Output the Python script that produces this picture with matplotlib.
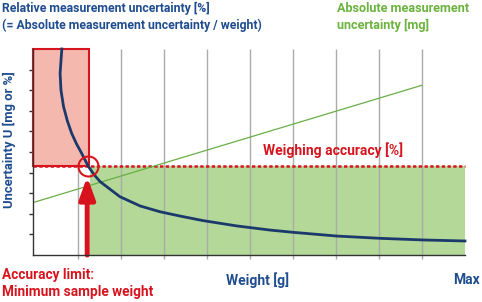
import numpy as np
import matplotlib
matplotlib.use('Agg')
import matplotlib.pyplot as plt
from matplotlib.patches import Rectangle

# values (x = weight units, y = uncertainty units)
weight_grid = [1, 2, 3, 4, 5, 6, 7, 8, 9]
y_ticks = [1, 2, 3, 4, 5, 6, 7, 8, 9]
min_weight = 1.24
accuracy_limit = 4.3
weight_max = 10.0

rel_x = [0.63, 0.59, 0.61, 0.67, 0.76, 0.86, 0.97, 1.09, 1.24, 1.38, 1.52, 1.98, 2.45, 2.91,
         3.38, 3.91, 4.70, 5.47, 6.01, 7.02, 8.02, 9.03, 10.0]
rel_y = [10.0, 8.82, 8.0, 7.2, 6.5, 5.9, 5.4, 4.94, 4.32, 3.9, 3.56, 2.83, 2.38, 2.10,
         1.89, 1.67, 1.41, 1.21, 1.10, 0.92, 0.81, 0.73, 0.68]

abs_x = [0.0, 9.0]
abs_y = [2.57, 8.24]

red = '#d7141e'
blue_txt = '#1f4d8f'
blue_line = '#1b3a6b'
green_txt = '#6cb33f'
green_line = '#6aae45'
green_fill = '#b3d898'
red_fill = '#f5b8ae'

W, H = 482, 302
fig = plt.figure(figsize=(W / 100, H / 100), dpi=100)
ax = fig.add_axes([33 / W, (H - 255) / H, 432 / W, 206 / H])
xmin = -0.04
ax.set_xlim(xmin, weight_max)
ax.set_ylim(0, 10)

# green area: accepted weighing range
ax.add_patch(Rectangle((min_weight + 0.05, 0), weight_max - min_weight - 0.05, accuracy_limit,
                       facecolor=green_fill, edgecolor='none', zorder=1))
ax.vlines(weight_grid, 0, 10, color='#ababab', lw=1, zorder=2)
# red area: below minimum weight
ax.add_patch(Rectangle((xmin, accuracy_limit), min_weight + 0.01 - xmin, 10 - accuracy_limit,
                       facecolor=red_fill, edgecolor=red, lw=1.5, zorder=3, clip_on=False))
ax.plot([xmin, weight_max], [accuracy_limit, accuracy_limit], color=red, lw=1.8,
        ls=(0, (1.35, 0.95)), zorder=4, clip_on=False)

ax.plot(abs_x, abs_y, color=green_line, lw=0.9, zorder=4)
ax.plot(rel_x, rel_y, color=blue_line, lw=2, zorder=5, solid_joinstyle='round', clip_on=False)

ax.annotate('', xy=(1.22, 3.8), xytext=(1.22, 0),
            arrowprops=dict(arrowstyle='-|>,head_length=1.3,head_width=0.47', mutation_scale=10,
                            color=red, lw=3.6, shrinkA=0, shrinkB=0), zorder=6)
ax.plot([min_weight], [accuracy_limit], 'o', ms=14.4, mfc='none', mec=red, mew=1.5, zorder=7)

for s in ['top', 'right']:
    ax.spines[s].set_visible(False)
for s in ['left', 'bottom']:
    ax.spines[s].set_color('#333333')
    ax.spines[s].set_linewidth(1)
    ax.spines[s].set_zorder(8)
ax.set_xticks(weight_grid)
ax.set_yticks(y_ticks)
ax.set_xticklabels([])
ax.set_yticklabels([])
ax.tick_params(axis='x', direction='out', length=3, color='#ababab', width=1)
ax.tick_params(axis='y', direction='out', length=3, color='#333333', width=1)

font = 'Roboto'
def ptext(px, py, s, color, ha='left', va='center', size=8.6, **kw):
    fig.text(px / W, 1 - py / H, s, color=color, ha=ha, va=va, fontsize=size,
             fontweight='bold', family=font, **kw)

ptext(2, 8, 'Relative measurement uncertainty [%]', blue_txt, size=8.8)
ptext(2, 25, '(= Absolute measurement uncertainty / weight)', blue_txt, size=8.8)
ptext(337, 8, 'Absolute measurement', green_txt, size=9.1)
ptext(337, 25, 'uncertainty [mg]', green_txt, size=9.1)
ptext(9, 140, 'Uncertainty U [mg or %]', blue_txt, ha='center', rotation=90, size=9.4)
ptext(333, 150, 'Weighing accuracy [%]', red, ha='center', size=10)
ptext(2, 275, 'Accuracy limit:', red, size=9.8)
ptext(2, 292, 'Minimum sample weight', red, size=9.8)
ptext(258, 280, 'Weight [g]', blue_txt, ha='center', size=10)
ptext(467, 280, 'Max', blue_txt, ha='center', size=10)

fig.savefig('out.png', dpi=100)
